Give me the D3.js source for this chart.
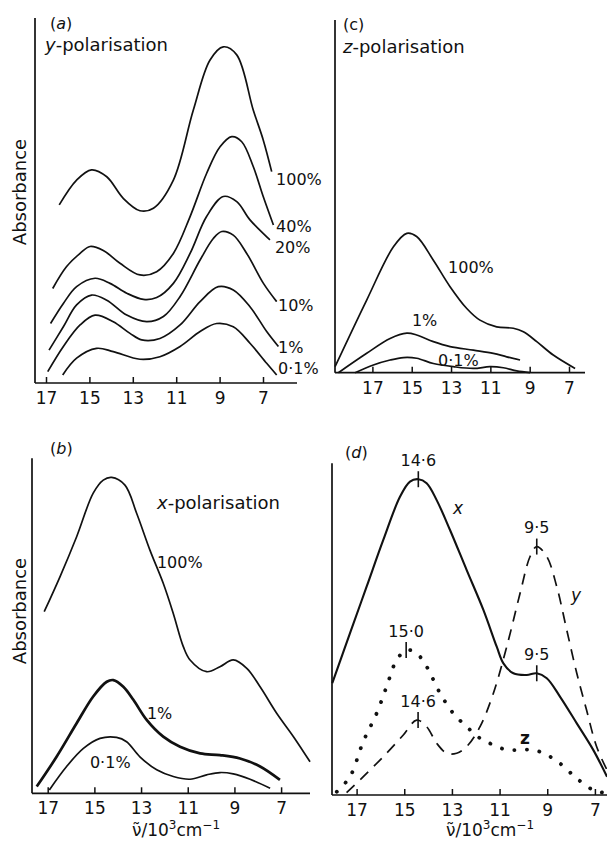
<!DOCTYPE html>
<html>
<head>
<meta charset="utf-8">
<script src="https://cdn.jsdelivr.net/npm/d3@7"></script>
<style>
  body { margin: 0; background: #fff; }
  text { font-family: "DejaVu Sans", sans-serif; fill: #111; }
</style>
</head>
<body>
<svg width="607" height="847"></svg>
<script>
// wavenumber ticks, 10^3 cm^-1
var ticks = [17, 15, 13, 11, 9, 7];

// (a) y-polarisation, [wavenumber, absorbance]
var yPol100 = [[16.39,.488],[15.59,.556],[14.90,.584],[14.20,.565],[13.44,.506],[12.67,.472],[12.05,.479],[11.13,.556],[10.21,.748],[9.44,.885],[8.83,.921],[8.21,.899],[7.45,.748],[6.99,.666],[6.60,.579]];
var yPol40 = [[16.69,.259],[16.05,.319],[15.43,.355],[14.97,.374],[14.36,.363],[13.59,.328],[12.67,.296],[11.90,.305],[11.13,.355],[10.36,.456],[9.60,.574],[8.98,.647],[8.44,.675],[7.98,.661],[7.45,.593],[6.99,.511],[6.52,.433]];
var yPol20 = [[16.79,.163],[16.20,.218],[15.59,.264],[14.74,.287],[14.05,.273],[13.28,.246],[12.51,.229],[11.90,.234],[11.13,.273],[10.36,.355],[9.60,.456],[8.83,.511],[8.21,.497],[7.60,.447],[6.68,.392]];
var yPol10 = [[16.86,.090],[16.20,.154],[15.59,.214],[14.90,.241],[14.20,.227],[13.28,.186],[12.36,.168],[11.59,.182],[10.82,.237],[9.90,.337],[9.29,.396],[8.90,.415],[8.37,.405],[7.75,.355],[6.98,.273],[6.37,.223]];
var yPol1 = [[16.92,.031],[16.20,.100],[15.43,.159],[14.74,.186],[13.90,.168],[13.13,.136],[12.59,.118],[11.75,.122],[10.82,.159],[9.90,.223],[9.06,.264],[8.37,.255],[7.60,.209],[6.83,.141],[6.29,.100]];
var yPol01 = [[16.23,.022],[15.59,.068],[14.67,.095],[13.90,.086],[12.67,.065],[11.75,.072],[10.82,.100],[9.90,.141],[9.14,.163],[8.37,.154],[7.60,.109],[6.83,.054],[6.37,.022]];

// (c) z-polarisation
var zPol100 = [[18.90,.017],[17.29,.206],[15.93,.357],[15.25,.395],[14.75,.386],[13.90,.319],[13.05,.244],[12.20,.182],[11.53,.149],[10.68,.130],[9.83,.126],[9.32,.116],[8.64,.088],[7.80,.050],[6.69,.012]];
var zPol1 = [[18.73,0],[17.29,.055],[16.10,.097],[15.25,.112],[14.75,.107],[13.90,.088],[13.05,.074],[11.86,.064],[10.85,.055],[10.17,.045],[9.49,.036]];
var zPol01 = [[17.88,0],[16.95,.022],[16.10,.036],[15.42,.043],[14.75,.041],[13.90,.026],[12.88,.017],[11.86,.012],[11.02,.017],[10.34,.014],[9.66,.005],[8.98,0]];

// (b) x-polarisation
var xPol100 = [[17.15,.542],[16.47,.647],[15.76,.766],[15.05,.896],[14.62,.935],[14.26,.943],[13.69,.920],[13.19,.836],[12.62,.726],[12.05,.627],[11.62,.537],[11.19,.438],[10.90,.398],[10.19,.363],[9.62,.378],[9.05,.398],[8.47,.373],[7.90,.318],[7.19,.239],[6.47,.169],[5.76,.094]];
var xPol1 = [[17.47,.020],[16.62,.109],[15.76,.209],[15.05,.289],[14.47,.333],[14.19,.338],[13.76,.318],[13.33,.279],[12.76,.219],[12.05,.169],[11.33,.139],[10.47,.119],[9.62,.114],[8.76,.104],[7.90,.080],[7.05,.040]];
var xPol01 = [[16.93,.010],[16.19,.080],[15.47,.134],[14.76,.164],[14.05,.167],[13.62,.154],[13.05,.109],[12.33,.070],[11.62,.050],[10.90,.042],[10.19,.055],[9.62,.062],[9.05,.058],[8.33,.042],[7.47,.015]];

// (d) resolved bands
var bandX = [[18.02,.337],[17.28,.487],[16.58,.628],[15.88,.769],[15.18,.899],[14.76,.945],[14.41,.952],[14.06,.940],[13.64,.889],[13.08,.799],[12.38,.678],[11.68,.558],[11.12,.447],[10.84,.397],[10.42,.367],[9.86,.362],[9.44,.367],[9.02,.352],[8.46,.296],[7.76,.216],[7.07,.136],[6.49,.055]];
var bandY = [[17.42,.007],[16.58,.065],[15.74,.126],[15.04,.181],[14.48,.226],[14.06,.206],[13.64,.156],[13.22,.126],[12.80,.126],[12.38,.146],[11.82,.206],[11.26,.307],[10.70,.447],[10.14,.608],[9.72,.719],[9.44,.749],[9.02,.719],[8.60,.628],[8.18,.497],[7.76,.367],[7.35,.256],[6.93,.146],[6.49,.075]];
var bandZ = [[17.83,.010],[17.28,.055],[16.72,.161],[16.16,.246],[15.74,.327],[15.32,.407],[14.90,.437],[14.48,.427],[14.06,.387],[13.50,.307],[12.94,.246],[12.38,.206],[11.82,.171],[11.26,.151],[10.70,.136],[10.14,.136],[9.58,.136],[9.02,.121],[8.46,.095],[7.76,.050],[7.07,.015],[6.49,.005]];

// peak marks in (d)
var peakLabels = ["14·6", "9·5", "9·5", "15·0", "14·6"];
var peakWave = [14.41, 9.44, 9.44, 14.92, 14.42];
var peakAbs = [.952, .749, .367, .437, .226];

// concentration labels [panel, text, wavenumber, absorbance]
var concLabels = [
  ["a", "100%", 6.40, .559], ["a", "40%", 6.40, .430], ["a", "20%", 6.45, .373],
  ["a", "10%", 6.31, .214], ["a", "1%", 6.31, .099], ["a", "0·1%", 6.31, .041],
  ["c", "100%", 13.15, .300], ["c", "1%", 14.99, .149], ["c", "0·1%", 13.66, .036],
  ["b", "100%", 12.32, .690], ["b", "1%", 12.75, .240], ["b", "0·1%", 15.19, .093]
];
var bandNames = ["x", "y", "z"];
var bandNamePos = [[12.95, .865], [8.00, .603], [10.14, .172]];

var svg = d3.select("svg");

var panels = {
  a: {x17: 46, x7: 263, left: 35, right: 297, base: 383, top: 18},
  c: {x17: 372.4, x7: 569, left: 335, right: 585, base: 372.7, top: 20},
  b: {x17: 47.7, x7: 281.1, left: 32, right: 310, base: 793.3, top: 458.3},
  d: {x17: 356.6, x7: 594.9, left: 332, right: 607, base: 795, top: 463.3}
};

var series = {
  a: [{d: yPol100}, {d: yPol40}, {d: yPol20}, {d: yPol10}, {d: yPol1}, {d: yPol01}],
  c: [{d: zPol100}, {d: zPol1}, {d: zPol01}],
  b: [{d: xPol100}, {d: xPol1, w: 2.7}, {d: xPol01}],
  d: [{d: bandX, w: 2.1}, {d: bandY, dash: "11,8"}, {d: bandZ, w: 3.8, dash: "0.1,12.5", cap: "round"}]
};

Object.keys(panels).forEach(function(k) {
  var p = panels[k];
  p.x = d3.scaleLinear().domain([17, 7]).range([p.x17, p.x7]);
  p.y = d3.scaleLinear().domain([0, 1]).range([p.base, p.top]);
  var g = svg.append("g").attr("class", "panel-" + k);

  // axes lines
  g.append("line").attr("x1", p.left).attr("x2", p.left).attr("y1", p.base).attr("y2", p.top)
    .attr("stroke", "#111").attr("stroke-width", 1.7);
  g.append("line").attr("x1", p.left).attr("x2", p.right).attr("y1", p.base).attr("y2", p.base)
    .attr("stroke", "#111").attr("stroke-width", 1.7);

  var ax = g.append("g")
    .attr("transform", "translate(0," + p.base + ")")
    .call(d3.axisBottom(p.x).tickValues(ticks).tickSizeInner(-6).tickSizeOuter(0).tickPadding(9));
  ax.select(".domain").remove();
  ax.selectAll("line").attr("stroke", "#111").attr("stroke-width", 1.5);
  ax.selectAll("text").attr("font-size", 17).attr("font-family", "DejaVu Sans").attr("fill", "#111");

  var line = d3.line()
    .x(function(d) { return p.x(d[0]); })
    .y(function(d) { return p.y(d[1]); })
    .curve(d3.curveCatmullRom.alpha(0.5));

  g.selectAll("path.curve")
    .data(series[k])
    .enter().append("path")
    .attr("class", "curve")
    .attr("d", function(s) { return line(s.d); })
    .attr("fill", "none")
    .attr("stroke", "#111")
    .attr("stroke-width", function(s) { return s.w || 1.7; })
    .attr("stroke-dasharray", function(s) { return s.dash || null; })
    .attr("stroke-linecap", function(s) { return s.cap || "butt"; });
});

// concentration labels
concLabels.forEach(function(l) {
  var p = panels[l[0]];
  svg.append("text")
    .attr("x", p.x(l[2])).attr("y", p.y(l[3]))
    .attr("dy", "0.36em")
    .attr("font-size", 16)
    .text(l[1]);
});

// peak marks (d)
var pd = panels.d;
peakLabels.forEach(function(t, i) {
  var cx = pd.x(peakWave[i]), cy = pd.y(peakAbs[i]);
  svg.append("line").attr("x1", cx).attr("x2", cx).attr("y1", cy - 8).attr("y2", cy + 8)
    .attr("stroke", "#111").attr("stroke-width", 1.6);
  svg.append("text").attr("x", cx).attr("y", cy - 19).attr("dy", "0.36em")
    .attr("text-anchor", "middle").attr("font-size", 16).text(t);
});
bandNames.forEach(function(t, i) {
  svg.append("text").attr("x", pd.x(bandNamePos[i][0])).attr("y", pd.y(bandNamePos[i][1]))
    .attr("dy", "0.36em").attr("font-size", 17)
    .attr("font-style", t === "z" ? "normal" : "italic")
    .attr("font-weight", t === "z" ? "bold" : "normal")
    .text(t);
});

// panel titles
function title(k, letter, dx, dy, italic) {
  var p = panels[k];
  var t = svg.append("text").attr("x", p.left + dx).attr("y", p.top + dy).attr("font-size", 16);
  t.append("tspan").text("(");
  t.append("tspan").attr("font-style", italic ? "italic" : "normal").text(letter);
  t.append("tspan").text(")");
}
title("a", "a", 15, 11, true);
title("c", "c", 8, 10, false);
title("b", "b", 18, -4, true);
title("d", "d", 13, -5, true);

function polar(x, y, letter) {
  var t = svg.append("text").attr("x", x).attr("y", y).attr("font-size", 18);
  t.append("tspan").attr("font-style", "italic").text(letter);
  t.append("tspan").text("-polarisation");
}
polar(panels.a.left + 10, panels.a.top + 33, "y");
polar(panels.c.left + 8, panels.c.top + 33, "z");
polar(panels.b.left + 125, panels.b.top + 51, "x");

// y axis titles
[["a", 192], ["b", 611]].forEach(function(a) {
  svg.append("text")
    .attr("transform", "translate(20," + a[1] + ") rotate(-90)")
    .attr("text-anchor", "middle").attr("dy", "0.36em")
    .attr("font-size", 18).text("Absorbance");
});

// x axis titles
[["b", 176], ["d", 490]].forEach(function(a) {
  var t = svg.append("text").attr("x", a[1]).attr("y", 836)
    .attr("text-anchor", "middle").attr("font-size", 17);
  t.append("tspan").text("\u03BD\u0303/10");
  t.append("tspan").attr("dy", -7).attr("font-size", 12).text("3");
  t.append("tspan").attr("dy", 7).text("cm");
  t.append("tspan").attr("dy", -7).attr("font-size", 12).text("\u22121");
});
</script>
</body>
</html>
